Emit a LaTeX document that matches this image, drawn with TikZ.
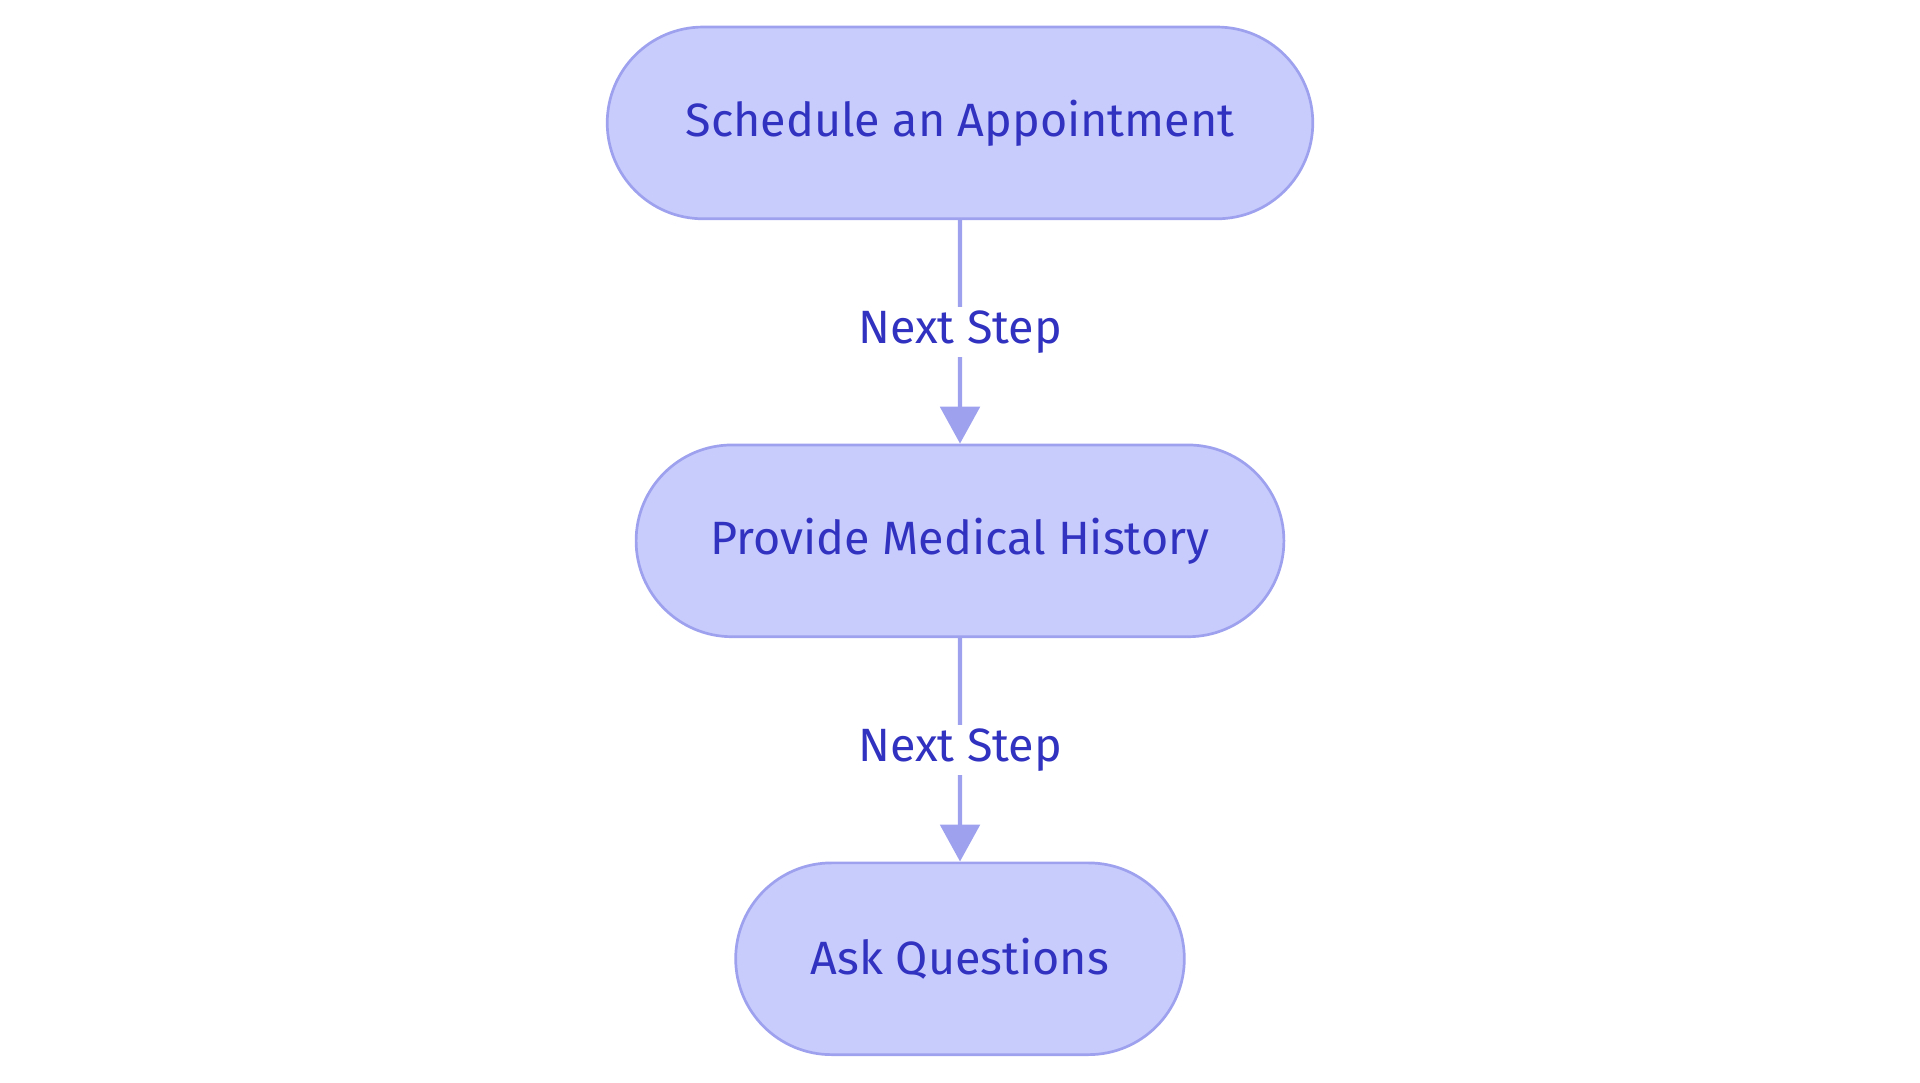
\documentclass[tikz,border=0pt]{standalone}
\usepackage{fontspec}
\setmainfont{Fira Sans}
\usetikzlibrary{positioning,arrows.meta,shapes.misc}
\definecolor{stepfill}{HTML}{C8CCFD}
\definecolor{stepline}{HTML}{9EA2EE}
\definecolor{steptext}{HTML}{3232C0}
\tikzset{
  stage/.style={rounded rectangle, draw=stepline, fill=stepfill, line width=2.2pt,
    text=steptext, font=\fontsize{38}{44}\selectfont, minimum height=156pt, inner xsep=0pt},
  link/.style={draw=stepline, line width=3.5pt, -{Triangle[length=30pt,width=32pt]}},
  tag/.style={fill=white, text=steptext, font=\fontsize{38}{44}\selectfont, inner sep=3pt}
}
\begin{document}
\begin{tikzpicture}[x=1pt,y=1pt]
\useasboundingbox (0,0) rectangle (1562,881);
\node[stage, minimum width=574pt] (sched) at (781,781) {Schedule an Appointment};
\node[stage, minimum width=527pt] (hist) at (781,441) {Provide Medical History};
\node[stage, minimum width=365pt] (ask) at (781,101) {Ask Questions};
\draw[link] (sched) -- node[tag] {Next Step} (hist);
\draw[link] (hist) -- node[tag] {Next Step} (ask);
\end{tikzpicture}
\end{document}
